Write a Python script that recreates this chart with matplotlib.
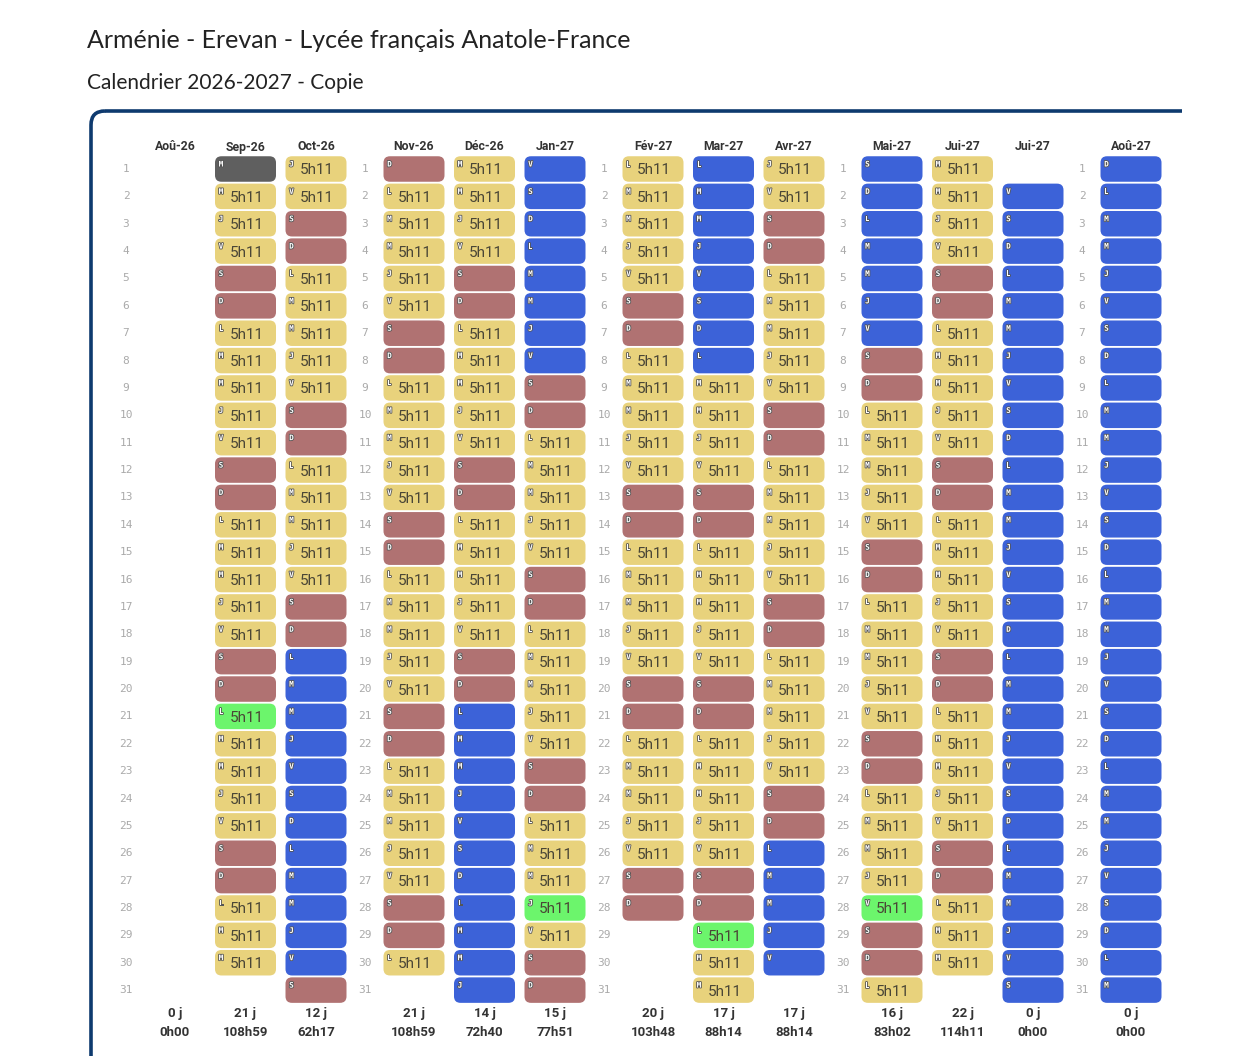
import datetime
import matplotlib
matplotlib.use("Agg")
from matplotlib import pyplot as plt
from matplotlib.patches import FancyBboxPatch, Rectangle
import matplotlib.patheffects as pe

title = "Arménie - Erevan - Lycée français Anatole-France"
subtitle = "Calendrier 2026-2027 - Copie"

months = ["Aoû-26", "Sep-26", "Oct-26", "Nov-26", "Déc-26", "Jan-27", "Fév-27",
          "Mar-27", "Avr-27", "Mai-27", "Jui-27", "Jui-27", "Aoû-27"]
years = [2026, 2026, 2026, 2026, 2026, 2027, 2027, 2027, 2027, 2027, 2027, 2027, 2027]
month_nums = [8, 9, 10, 11, 12, 1, 2, 3, 4, 5, 6, 7, 8]

# W = cours, E = week-end, V = vacances, F = jour marqué, G = pré-rentrée, . = vide
day_status = [
    "." * 31,
    "GWWWEE" + "WWWWWEE" * 2 + "FWWWWEE" + "WWW",
    "WWEE" + "WWWWWEE" * 2 + "V" * 12 + "E",
    "E" + "WWWWWEE" * 4 + "W",
    "WWWWEE" + "WWWWWEE" * 2 + "V" * 11,
    "V" * 8 + "EE" + "WWWWWEE" * 2 + "WWWFWEE",
    "WWWWWEE" * 4,
    "V" * 8 + "WWWWEE" + "WWWWWEE" * 2 + "FWW",
    "WWEE" + "WWWWWEE" * 3 + "V" * 5,
    "V" * 7 + "EE" + "WWWWWEE" * 2 + "WWWWFEE" + "W",
    "WWWWEE" + "WWWWWEE" * 3 + "WWW",
    "." + "V" * 30,
    "V" * 31,
]
day_hours = "5h11"
total_days = ["0 j", "21 j", "12 j", "21 j", "14 j", "15 j", "20 j",
              "17 j", "17 j", "16 j", "22 j", "0 j", "0 j"]
total_hours = ["0h00", "108h59", "62h17", "108h59", "72h40", "77h51", "103h48",
               "88h14", "88h14", "83h02", "114h11", "0h00", "0h00"]

weekday_letters = ["L", "M", "M", "J", "V", "S", "D"]
colors = {"W": "#e8d27c", "E": "#b07272", "V": "#3c62d8", "F": "#6cf56c", "G": "#5f5f5f"}

W, H = 1240, 1056
fig = plt.figure(figsize=(W / 100, H / 100), dpi=100)
ax = fig.add_axes([0, 0, 1, 1])
ax.set_xlim(0, W)
ax.set_ylim(H, 0)
ax.axis("off")

ax.text(87, 40, title, fontsize=18, family="Lato", color="#222222", va="center")
ax.text(87, 83, subtitle, fontsize=15, family="Lato", color="#222222", va="center")

frame = FancyBboxPatch((91, 111), 1500, 1500, boxstyle="round,pad=0,rounding_size=14",
                       fill=False, edgecolor="#0e3a6e", linewidth=2.6)
ax.add_patch(frame)
frame.set_clip_path(Rectangle((0, 0), 1182, H, transform=ax.transData))

x0 = 126
group_w = 239
col_off = 49
col_w = 70.5
y_first = 169
row_h = 27.37
cell_w = 61
cell_h = 25.5


def month_x(i):
    return x0 + group_w * (i // 3) + col_off + col_w * (i % 3)


for g in range(5):
    for d in range(1, 32):
        ax.text(x0 + group_w * g, y_first + row_h * (d - 1), str(d), fontsize=8,
                family="DejaVu Sans Mono", color="#aaaaaa", ha="center", va="center")

for i, name in enumerate(months):
    cx = month_x(i)
    ax.text(cx, 147, name, fontsize=8.8, family="Roboto", weight="bold",
            color="#333333", ha="center", va="center")
    ax.text(cx, 1014, total_days[i], fontsize=9.5, family="Roboto", weight="bold",
            color="#333333", ha="center", va="center")
    ax.text(cx, 1032, total_hours[i], fontsize=9.5, family="Roboto", weight="bold",
            color="#333333", ha="center", va="center")
    for d, s in enumerate(day_status[i], start=1):
        if s == ".":
            continue
        cy = y_first + row_h * (d - 1)
        box = FancyBboxPatch((cx - cell_w / 2, cy - cell_h / 2), cell_w, cell_h,
                             boxstyle="round,pad=0,rounding_size=6.5",
                             facecolor=colors[s], edgecolor="none")
        ax.add_patch(box)
        wd = datetime.date(years[i], month_nums[i], d).weekday()
        ax.text(cx - cell_w / 2 + 6, cy - 5, weekday_letters[wd], fontsize=5.5,
                family="DejaVu Sans Mono", weight="bold", color="white", ha="center",
                va="center", path_effects=[pe.withStroke(linewidth=1.2, foreground="#555555")])
        if s in "WF":
            ax.text(cx + 1, cy + 1.5, day_hours, fontsize=11, family="Roboto",
                    color="#4a4636", ha="center", va="center")

fig.savefig("out.png", dpi=100)
